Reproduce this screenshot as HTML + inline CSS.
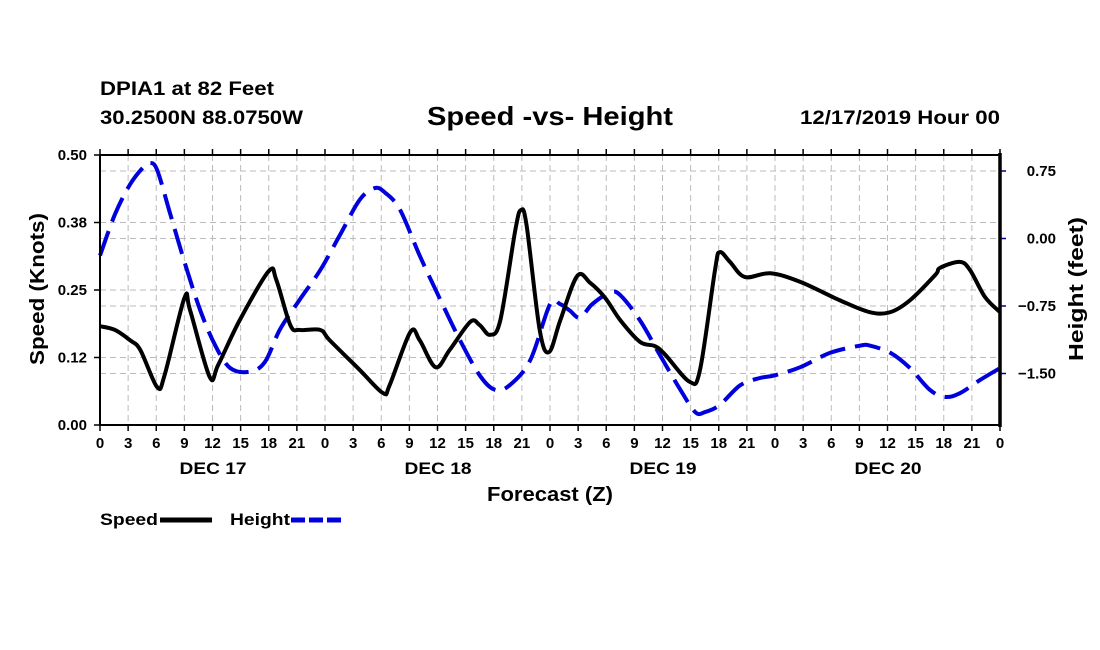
<!DOCTYPE html>
<html><head><meta charset="utf-8"><style>
body{margin:0;background:#fff}
svg{display:block}
text{font-family:"Liberation Sans",sans-serif;font-weight:bold;fill:#000}
</style></head><body>
<svg id="chart" width="1100" height="650" viewBox="0 0 1100 650">
<text x="100" y="95" font-size="19" textLength="174" lengthAdjust="spacingAndGlyphs">DPIA1 at 82 Feet</text>
<text x="100" y="124" font-size="19" textLength="203" lengthAdjust="spacingAndGlyphs">30.2500N 88.0750W</text>
<text x="427" y="125" font-size="26" textLength="246" lengthAdjust="spacingAndGlyphs">Speed -vs- Height</text>
<text x="800" y="124" font-size="19" textLength="200" lengthAdjust="spacingAndGlyphs">12/17/2019 Hour 00</text>
<g id="grid"></g>
<g id="series"></g>
<g id="axes"></g>
<text transform="translate(44,289) rotate(-90)" font-size="20" text-anchor="middle" textLength="152" lengthAdjust="spacingAndGlyphs">Speed (Knots)</text>
<text transform="translate(1083,289) rotate(-90)" font-size="20" text-anchor="middle" textLength="144" lengthAdjust="spacingAndGlyphs">Height (feet)</text>
<text x="487" y="501" font-size="20" textLength="126" lengthAdjust="spacingAndGlyphs">Forecast (Z)</text>
<g>
<text x="100" y="525" font-size="17" textLength="58" lengthAdjust="spacingAndGlyphs">Speed</text>
<line x1="160" y1="520" x2="212" y2="520" stroke="#000" stroke-width="5"/>
<text x="230" y="525" font-size="17" textLength="60" lengthAdjust="spacingAndGlyphs">Height</text>
<line x1="291" y1="520" x2="343" y2="520" stroke="#0000dd" stroke-width="5" stroke-dasharray="14,4"/>
</g>
</svg>
<script>
const hourTicks=[0,3,6,9,12,15,18,21,0,3,6,9,12,15,18,21,0,3,6,9,12,15,18,21,0,3,6,9,12,15,18,21,0];
const dayLabels=["DEC 17","DEC 18","DEC 19","DEC 20"];
const speedTicks=[0,0.125,0.25,0.375,0.5];
const speedTickLabels=["0.00","0.12","0.25","0.38","0.50"];
const heightTicks=[0.75,0,-0.75,-1.5];
const heightTickLabels=["0.75","0.00","\u22120.75","\u22121.50"];
const speedHours=[0,1.6,3.2,4.3,6.1,6.9,9.0,9.6,11.7,12.6,14.9,18.0,18.8,20.3,21.3,23.5,24.5,27.7,30.2,30.9,33.1,34.1,35.8,37.3,39.5,40.5,41.6,42.7,44.3,44.9,45.5,46.9,47.9,49.1,50.9,52.3,53.9,55.5,57.6,59.2,60.3,62.9,64,65.6,66.1,67.2,68.8,71.5,74.7,78.9,82.1,84.3,86.4,89.1,89.6,91.7,92.8,94.4,96];
const speedValues=[.183,.176,.157,.139,.070,.093,.235,.213,.089,.111,.194,.285,.269,.185,.176,.176,.157,.102,.059,.074,.172,.157,.107,.139,.191,.185,.167,.194,.361,.398,.370,.176,.135,.194,.276,.263,.235,.194,.154,.146,.130,.080,.102,.287,.320,.302,.274,.281,.265,.231,.209,.209,.231,.278,.291,.302,.287,.237,.209];
const heightHours=[0,1.6,3.2,4.6,5.3,6.1,7.5,9.1,10.7,12.3,13.9,16.0,17.6,19.2,21.3,23.5,25.6,27.7,29.3,30.4,32.0,34.1,36.3,38.4,40.5,42.1,43.7,45.9,48.0,49.1,50.1,51.2,52.5,54.4,55.5,57.6,59.7,61.9,63.5,64.5,66.1,68.3,70.4,72.0,74.7,77.9,81.1,82.1,84.3,86.4,88.5,90.1,91.7,93.9,96];
const heightValues=[-.19,.27,.60,.79,.84,.76,.27,-.29,-.80,-1.19,-1.44,-1.48,-1.37,-1.01,-.68,-.35,.04,.43,.56,.51,.32,-.19,-.68,-1.13,-1.52,-1.68,-1.63,-1.35,-.73,-.73,-.80,-.88,-.73,-.60,-.63,-.91,-1.29,-1.68,-1.93,-1.93,-1.85,-1.63,-1.55,-1.52,-1.43,-1.27,-1.19,-1.19,-1.27,-1.44,-1.68,-1.76,-1.72,-1.57,-1.44];

const L=100,R=1000,T=155,B=425,NS="http://www.w3.org/2000/svg";
const xS=h=>L+h*(R-L)/96;
const yS=v=>B-v*(B-T)/0.5;
const yH=v=>238.5-v*90;
function mk(tag,attrs,parent){const e=document.createElementNS(NS,tag);for(const k in attrs)e.setAttribute(k,attrs[k]);parent.appendChild(e);return e;}
const grid=document.getElementById('grid'),axes=document.getElementById('axes'),series=document.getElementById('series');
hourTicks.forEach((t,i)=>{const x=xS(i*3);
 if(i>0&&i<hourTicks.length-1){const g=mk('line',{x1:x,y1:T,x2:x,y2:B,stroke:'#bbb','stroke-dasharray':'6,4'},grid);
 
 }
 [[B,B+6],[T,T-6]].forEach(p=>{const tk=mk('line',{x1:x,y1:p[0],x2:x,y2:p[1],stroke:'#000','stroke-width':1.5},axes);
 
 });
 const lb=mk('text',{x:x,y:B+23,'font-size':15,'text-anchor':'middle'},axes);lb.textContent=t;
 
 
});
dayLabels.forEach((d,i)=>{const lb=mk('text',{x:xS(i*24+12)-33,y:B+49,'font-size':17,textLength:67,lengthAdjust:'spacingAndGlyphs'},axes);lb.textContent=d;
 
 });
speedTicks.forEach((v,i)=>{const y=yS(v);
 if(v>0&&v<0.5){const g=mk('line',{x1:L,y1:y,x2:R,y2:y,stroke:'#bbb','stroke-dasharray':'6,4'},grid);
 
 }
 const tk=mk('line',{x1:L-6,y1:y,x2:L,y2:y,stroke:'#000','stroke-width':1.5},axes);
 
 
 const lb=mk('text',{x:L-13,y:y+5,'font-size':15,'text-anchor':'end'},axes);lb.textContent=speedTickLabels[i];
 
 
});
heightTicks.forEach((v,i)=>{const y=yH(v);
 const g=mk('line',{x1:L,y1:y,x2:R,y2:y,stroke:'#bbb','stroke-dasharray':'6,4'},grid);
 
 
 const tk=mk('line',{x1:R,y1:y,x2:R+6,y2:y,stroke:'#00008b','stroke-width':1.5},axes);
 
 
 const lb=mk('text',{x:1056,y:y+5,'font-size':15,'text-anchor':'end'},axes);lb.textContent=heightTickLabels[i];
 
 
});
const fr=mk('path',{d:`M${R},${T}H${L}V${B}H${R}`,fill:'none',stroke:'#000','stroke-width':2},axes);


const ra=mk('line',{x1:R,y1:T-2,x2:R,y2:B+2,stroke:'#000','stroke-width':3.5},axes);


function smooth(pts){let d=`M${pts[0][0]},${pts[0][1]}`;
 for(let i=0;i<pts.length-1;i++){const p0=pts[Math.max(0,i-1)],p1=pts[i],p2=pts[i+1],p3=pts[Math.min(pts.length-1,i+2)];
 d+=`C${p1[0]+(p2[0]-p0[0])/6},${p1[1]+(p2[1]-p0[1])/6} ${p2[0]-(p3[0]-p1[0])/6},${p2[1]-(p3[1]-p1[1])/6} ${p2[0]},${p2[1]}`;}
 return d;}
const hp=mk('path',{d:smooth(heightHours.map((h,i)=>[xS(h),yH(heightValues[i])])),fill:'none',stroke:'#0000dd','stroke-width':4,'stroke-dasharray':'26,10'},series);


const sp=mk('path',{d:smooth(speedHours.map((h,i)=>[xS(h),yS(speedValues[i])])),fill:'none',stroke:'#000','stroke-width':4,'stroke-linejoin':'round'},series);


</script>
</body></html>
